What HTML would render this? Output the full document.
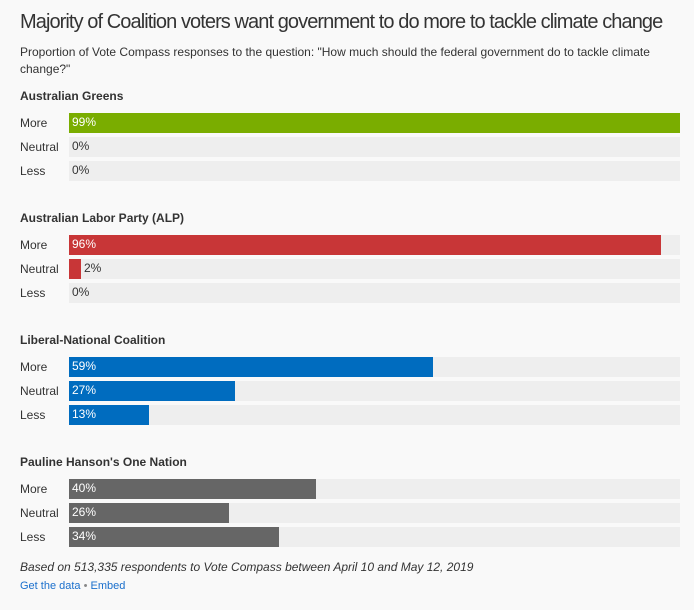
<!DOCTYPE html>
<html><head><meta charset="utf-8">
<style>
*{margin:0;padding:0;box-sizing:border-box}
html,body{width:694px;height:610px;background:#f9f9f9;overflow:hidden}
body{position:relative;font-family:"Liberation Sans",Arial,sans-serif;color:#333}
.a{position:absolute;white-space:nowrap}
.t{left:20px;top:11px;font-size:20px;line-height:23px;color:#333;letter-spacing:-0.92px}
.s{left:20px;top:44px;font-size:12px;line-height:17px;color:#333;white-space:normal;width:660px}
.h{left:20px;font-size:12px;line-height:14px;font-weight:bold;color:#333}
.l{left:20px;font-size:12px;line-height:14px;color:#333}
.tr{position:absolute;left:69px;width:611px;height:20px;background:#eeeeee}
.b{position:absolute;left:0;top:0;height:20px}
.v{position:absolute;top:2px;font-size:12px;line-height:14px;color:#333}
.w{color:#fff}
.f{left:20px;top:560px;font-size:12px;line-height:14px;font-style:italic;color:#333}
.k{left:20px;top:580px;font-size:11px;line-height:13px;color:#1a6fcc}
.k span{color:#888}
</style></head><body>
<div class="a t">Majority of Coalition voters want government to do more to tackle climate change</div>
<div class="a s">Proportion of Vote Compass responses to the question: "How much should the federal government do to tackle climate change?"</div>

<div class="a h" style="top:89px">Australian Greens</div>
<div class="a l" style="top:116px">More</div>
<div class="a l" style="top:140px">Neutral</div>
<div class="a l" style="top:164px">Less</div>
<div class="tr" style="top:113px"><div class="b" style="width:611px;background:#7aad00"></div><div class="v w" style="left:3px">99%</div></div>
<div class="tr" style="top:137px"><div class="v" style="left:3px">0%</div></div>
<div class="tr" style="top:161px"><div class="v" style="left:3px">0%</div></div>

<div class="a h" style="top:211px">Australian Labor Party (ALP)</div>
<div class="a l" style="top:238px">More</div>
<div class="a l" style="top:262px">Neutral</div>
<div class="a l" style="top:286px">Less</div>
<div class="tr" style="top:235px"><div class="b" style="width:592px;background:#c83637"></div><div class="v w" style="left:3px">96%</div></div>
<div class="tr" style="top:259px"><div class="b" style="width:12px;background:#c83637"></div><div class="v" style="left:15px">2%</div></div>
<div class="tr" style="top:283px"><div class="v" style="left:3px">0%</div></div>

<div class="a h" style="top:333px">Liberal-National Coalition</div>
<div class="a l" style="top:360px">More</div>
<div class="a l" style="top:384px">Neutral</div>
<div class="a l" style="top:408px">Less</div>
<div class="tr" style="top:357px"><div class="b" style="width:364px;background:#006cbf"></div><div class="v w" style="left:3px">59%</div></div>
<div class="tr" style="top:381px"><div class="b" style="width:166px;background:#006cbf"></div><div class="v w" style="left:3px">27%</div></div>
<div class="tr" style="top:405px"><div class="b" style="width:80px;background:#006cbf"></div><div class="v w" style="left:3px">13%</div></div>

<div class="a h" style="top:455px">Pauline Hanson's One Nation</div>
<div class="a l" style="top:482px">More</div>
<div class="a l" style="top:506px">Neutral</div>
<div class="a l" style="top:530px">Less</div>
<div class="tr" style="top:479px"><div class="b" style="width:247px;background:#666666"></div><div class="v w" style="left:3px">40%</div></div>
<div class="tr" style="top:503px"><div class="b" style="width:160px;background:#666666"></div><div class="v w" style="left:3px">26%</div></div>
<div class="tr" style="top:527px"><div class="b" style="width:210px;background:#666666"></div><div class="v w" style="left:3px">34%</div></div>

<div class="a f">Based on 513,335 respondents to Vote Compass between April 10 and May 12, 2019</div>
<div class="a k">Get the data <span>•</span> Embed</div>
</body></html>
